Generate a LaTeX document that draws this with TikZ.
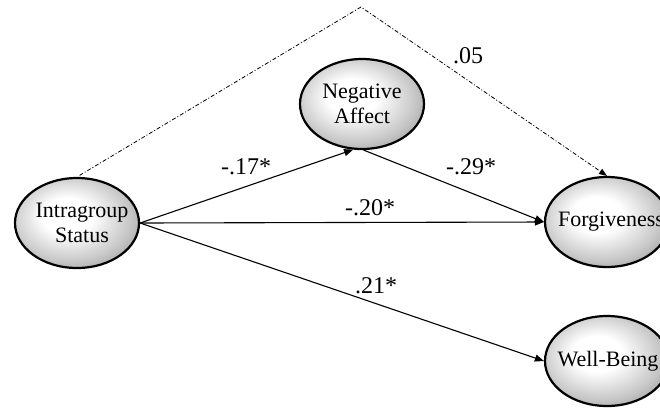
\documentclass[tikz,border=0pt]{standalone}
\usepackage{fontspec}
\setmainfont{Liberation Serif}
\usetikzlibrary{shapes.geometric,arrows.meta,calc}
\pgfdeclareradialshading{ellshade}{\pgfpoint{-5bp}{5bp}}{%
  color(0bp)=(white); color(10bp)=(white); color(24bp)=(black!22); color(32bp)=(black!38); color(50bp)=(black!38)}
\begin{document}
\begin{tikzpicture}[x=1pt,y=-1pt,
  latent/.style={ellipse, draw=black, line width=2.2pt, minimum width=124pt, minimum height=90pt,
    inner sep=0pt, shading=ellshade},
  intext/.style={font=\fontsize{22}{25}\selectfont, align=center, inner sep=0pt},
  pathline/.style={line width=1.1pt, -{Triangle[length=9pt,width=7pt]}},
  coef/.style={font=\fontsize{24}{26}\selectfont, inner sep=0pt},
  nsig/.style={line width=0.8pt, dash pattern=on 4pt off 2pt on 1pt off 2pt,
    -{Triangle[length=8pt,width=6pt]}}
]
\useasboundingbox (0,0) rectangle (660,408);
\clip (0,0) rectangle (660,408);
\fill[white] (0,0) rectangle (660,408);

\node[latent, label={[intext, xshift=5pt]center:Intragroup\\Status}] (is) at (77,223) {};
\node[latent, label={[intext]center:Negative\\Affect}] (na) at (362,104) {};
\node[latent, label={[intext, xshift=4pt]center:Forgiveness}] (fo) at (607,222) {};
\node[latent, label={[intext, xshift=1pt]center:Well-Being}] (wb) at (607,361) {};

\coordinate (apex) at (361,7);

\draw[nsig, shorten <=3pt] (is.north) -- (apex) -- (fo.north);
\draw[pathline] (is.east) -- (na.-101);
\draw[pathline] (na.-88) -- (fo.west);
\draw[pathline] (is.east) -- (fo.west);
\draw[pathline] (is.east) -- (wb.west);

\node[coef] (l05) at (468,56) {.05};
\node[coef] (l17) at (246,167) {-.17*};
\node[coef] (l29) at (471,167) {-.29*};
\node[coef] (l20) at (370,208) {-.20*};
\node[coef] (l21) at (376,286) {.21*};
\end{tikzpicture}
\end{document}
